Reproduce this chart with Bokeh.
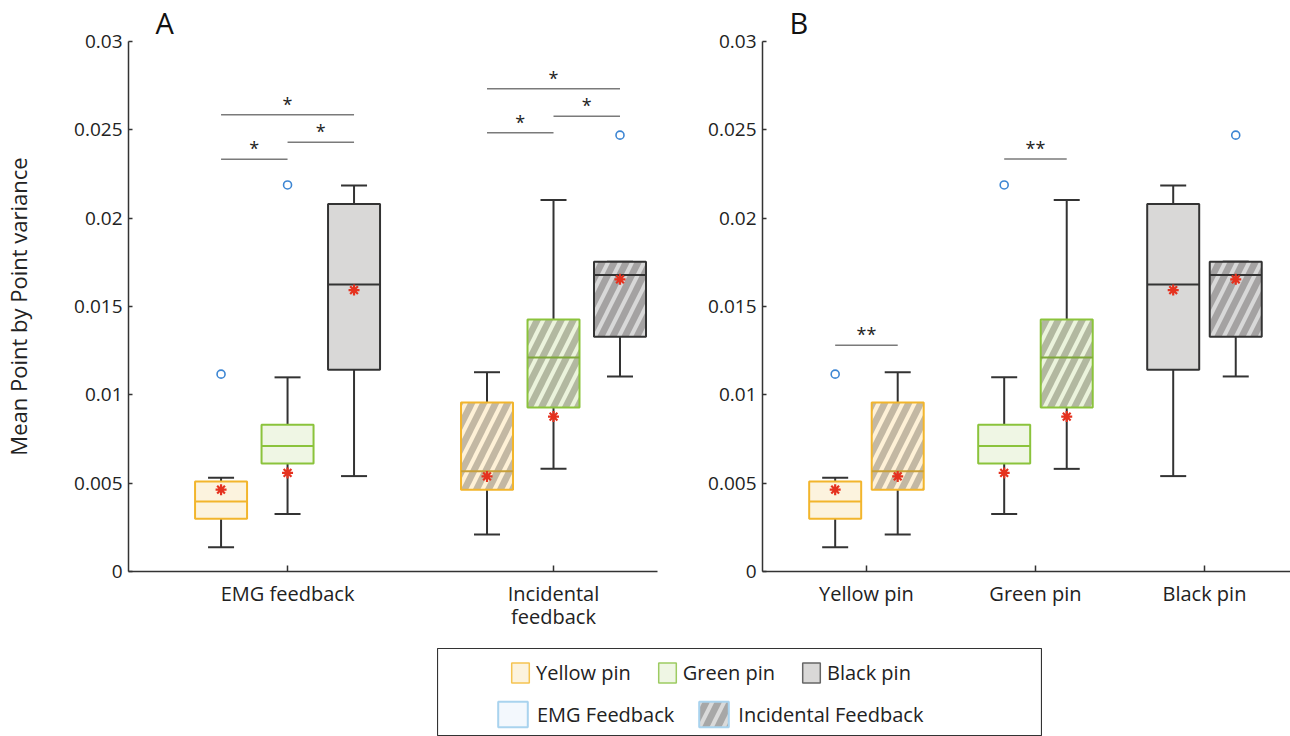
import numpy as np
from bokeh.plotting import figure
from bokeh.models import (Range1d, FixedTicker, CustomJSTickFormatter,
                          Legend, LegendItem, Spacer, ColumnDataSource)
from bokeh.layouts import row, column
from bokeh.embed import file_html
from bokeh.resources import INLINE
from bokeh.core.properties import value

# ---------------- data ----------------
pins = ["Yellow pin", "Green pin", "Black pin"]
feedback_ticks = ["EMG feedback", "Incidental\nfeedback"]
feedback_legend = ["EMG Feedback", "Incidental Feedback"]
panel_letters = ["A", "B"]
y_ticks = [0, 0.005, 0.01, 0.015, 0.02, 0.025, 0.03]
y_tick_labels = ["0", "0.005", "0.01", "0.015", "0.02", "0.025", "0.03"]

# EMG feedback (yellow, green, black)
emg_low = [0.00137, 0.00325, 0.00540]
emg_q1 = [0.00298, 0.00611, 0.01142]
emg_median = [0.00396, 0.00711, 0.01624]
emg_q3 = [0.00510, 0.00830, 0.02080]
emg_high = [0.00531, 0.01099, 0.02185]
emg_mean = [0.00463, 0.00558, 0.01593]
emg_outlier = [0.01117, 0.02188, None]

# Incidental feedback (yellow, green, black)
inc_low = [0.00209, 0.00581, 0.01104]
inc_q1 = [0.00463, 0.00928, 0.01329]
inc_median = [0.00567, 0.01211, 0.01679]
inc_q3 = [0.00957, 0.01426, 0.01754]
inc_high = [0.01128, 0.02103, 0.01754]
inc_mean = [0.00538, 0.00877, 0.01654]
inc_outlier = [None, None, 0.02470]

# significance brackets, panel A: (feedback group, pin from, pin to, height, text)
sigA_group = [0, 0, 0, 1, 1, 1]
sigA_from = [0, 1, 0, 0, 1, 0]
sigA_to = [1, 2, 2, 1, 2, 2]
sigA_y = [0.02334, 0.02430, 0.02586, 0.02483, 0.02577, 0.02733]
sigA_text = ["*", "*", "*", "*", "*", "*"]
# panel B: (pin, height, text) between EMG and Incidental
sigB_pin = [0, 1]
sigB_y = [0.01280, 0.02335]
sigB_text = ["**", "**"]

# ---------------- styles ----------------
FONT = "Open Sans"
edge = ["#F2B52C", "#8BC33C", "#333333"]
fill_emg = ["#FCF3DE", "#EFF6E4", "#D9D8D7"]
fill_inc = ["#C3B8A3", "#B2B8A0", "#A4A2A2"]
hatch_inc = ["#FEF1D7", "#EBF3DC", "#D8D8D8"]
med_inc = ["#C9A038", "#7FA83A", "#333333"]
WHISK = "#333333"
MEAN_C = "#E5321F"
OUT_C = "#3D86D3"
SIG_C = "#7A7A7A"
TXT = "#222222"
HATCH = dict(hatch_pattern="/", hatch_weight=4, hatch_scale=24)

stats = {
    "emg": (emg_low, emg_q1, emg_median, emg_q3, emg_high, emg_mean, emg_outlier),
    "inc": (inc_low, inc_q1, inc_median, inc_q3, inc_high, inc_mean, inc_outlier),
}


def make_source(xs, key):
    low, q1, med, q3, high, mean, outl = stats[key]
    return ColumnDataSource(dict(
        x=xs, low=low, q1=q1, med=med, q3=q3, high=high, mean=mean,
        mid=[(a + b) / 2 for a, b in zip(q1, q3)],
        h=[b - a for a, b in zip(q1, q3)],
        fill=fill_emg if key == "emg" else fill_inc,
        edge=edge,
        medc=edge if key == "emg" else med_inc,
        hatch=hatch_inc,
    )), [(x, o) for x, o in zip(xs, outl) if o is not None]


def draw_boxes(p, src, outs, hatched):
    p.segment(x0="x", y0="low", x1="x", y1="q1", source=src, line_color=WHISK, line_width=2)
    p.segment(x0="x", y0="q3", x1="x", y1="high", source=src, line_color=WHISK, line_width=2)
    p.scatter(x="x", y="low", source=src, marker="dash", size=26, line_color=WHISK, line_width=2)
    p.scatter(x="x", y="high", source=src, marker="dash", size=26, line_color=WHISK, line_width=2)
    kw = dict(hatch_color="hatch", **HATCH) if hatched else {}
    p.rect(x="x", y="mid", width=52, height="h", width_units="screen", source=src,
           fill_color="fill", line_color="edge", line_width=2, **kw)
    p.scatter(x="x", y="med", source=src, marker="dash", size=52, line_color="medc", line_width=2)
    p.scatter(x="x", y="mean", source=src, marker="asterisk", size=11, line_color=MEAN_C, line_width=2.2)
    if outs:
        p.scatter(x=[o[0] for o in outs], y=[o[1] for o in outs], marker="circle", size=8,
                  fill_color=None, line_color=OUT_C, line_width=1.6)


def style_panel(p, tick_pos, tick_labels, letter, ylabel=None):
    p.grid.visible = False
    p.outline_line_color = None
    p.title.text = letter
    p.title.text_font = FONT
    p.title.text_font_size = "29px"
    p.title.text_font_style = "normal"
    p.title.text_color = "#111111"
    p.title.align = "left"
    p.title.offset = 27
    p.title.standoff = 0
    p.title.vertical_align = "bottom"
    p.xaxis.ticker = FixedTicker(ticks=tick_pos)
    p.xaxis.formatter = CustomJSTickFormatter(args=dict(names=tick_labels),
                                              code="return names[Math.round(tick) - 1];")
    p.yaxis.ticker = FixedTicker(ticks=y_ticks)
    p.yaxis.formatter = CustomJSTickFormatter(
        args=dict(tvals=y_ticks, tlabels=y_tick_labels),
        code="const i = tvals.findIndex(t => Math.abs(t - tick) < 1e-9); return i >= 0 ? tlabels[i] : '';")
    for ax in (p.xaxis[0], p.yaxis[0]):
        ax.axis_line_color = "#333333"
        ax.axis_line_width = 1.5
        ax.major_tick_line_color = "#333333"
        ax.major_tick_line_width = 1.5
        ax.minor_tick_line_color = None
        ax.major_tick_out = 0
        ax.major_label_text_font = FONT
        ax.major_label_text_color = TXT
    p.xaxis.major_tick_in = 6
    p.xaxis.major_label_standoff = 8
    p.xaxis.major_label_text_font_size = "20px"
    p.xaxis.major_label_text_line_height = 0.88
    p.yaxis.major_tick_in = 4
    p.yaxis.major_label_standoff = 6
    p.yaxis.major_label_text_font_size = "19px"
    if ylabel:
        p.yaxis.axis_label = ylabel
        p.yaxis.axis_label_text_font = FONT
        p.yaxis.axis_label_text_font_size = "22px"
        p.yaxis.axis_label_text_font_style = "normal"
        p.yaxis.axis_label_text_color = TXT
        p.yaxis.axis_label_standoff = 38


# ---------------- panel A ----------------
PIN_OFF_A = 0.25
pA = figure(width=677, height=640, x_range=Range1d(0.402, 2.391), y_range=Range1d(0, 0.03),
            min_border_left=128, min_border_right=20, min_border_top=40, min_border_bottom=69,
            toolbar_location=None, output_backend="svg")
for g, key in enumerate(["emg", "inc"]):
    xs = [g + 1 + (i - 1) * PIN_OFF_A for i in range(3)]
    src, outs = make_source(xs, key)
    draw_boxes(pA, src, outs, key == "inc")

xa0 = [g + 1 + (a - 1) * PIN_OFF_A for g, a in zip(sigA_group, sigA_from)]
xa1 = [g + 1 + (b - 1) * PIN_OFF_A for g, b in zip(sigA_group, sigA_to)]
pA.segment(x0=xa0, y0=sigA_y, x1=xa1, y1=sigA_y, line_color=SIG_C, line_width=1.5)
pA.text(x=[(a + b) / 2 for a, b in zip(xa0, xa1)], y=sigA_y, text=sigA_text,
        text_align="center", text_baseline="bottom", y_offset=1,
        text_font=value(FONT), text_font_size="18px", text_color=TXT)
style_panel(pA, [1, 2], feedback_ticks, panel_letters[0], "Mean Point by Point variance")

# ---------------- panel B ----------------
FB_OFF_B = 0.185
pB = figure(width=613, height=640, x_range=Range1d(0.385, 3.509), y_range=Range1d(0, 0.03),
            min_border_left=85, min_border_right=0, min_border_top=40, min_border_bottom=69,
            toolbar_location=None, output_backend="svg")
for f, key in enumerate(["emg", "inc"]):
    xs = [i + 1 + (f - 0.5) * 2 * FB_OFF_B for i in range(3)]
    src, outs = make_source(xs, key)
    draw_boxes(pB, src, outs, key == "inc")

xb0 = [i + 1 - FB_OFF_B for i in sigB_pin]
xb1 = [i + 1 + FB_OFF_B for i in sigB_pin]
pB.segment(x0=xb0, y0=sigB_y, x1=xb1, y1=sigB_y, line_color=SIG_C, line_width=1.5)
pB.text(x=[i + 1 for i in sigB_pin], y=sigB_y, text=sigB_text,
        text_align="center", text_baseline="bottom", y_offset=1,
        text_font=value(FONT), text_font_size="18px", text_color=TXT)
style_panel(pB, [1, 2, 3], pins, panel_letters[1])

# ---------------- legend ----------------
pL = figure(width=605, height=96, x_range=Range1d(0, 1), y_range=Range1d(0, 1),
            min_border_top=8, min_border_left=0, min_border_right=1, min_border_bottom=0,
            x_axis_location=None, y_axis_location=None,
            toolbar_location=None, output_backend="svg")
pL.grid.visible = False
pL.outline_line_color = "#333333"
pL.outline_line_width = 1.2

leg_fill = ["#FCF3DE", "#EFF6E4", "#D9D8D7"]
leg_edge = ["#F5C451", "#9DCB62", "#666666"]
pin_r = [pL.rect(x=[np.nan], y=[np.nan], width=1, height=1, fill_color=leg_fill[i],
                 line_color=leg_edge[i], line_width=1.5) for i in range(3)]
fb_r = [
    pL.rect(x=[np.nan], y=[np.nan], width=1, height=1, fill_color="#F3F8FD",
            line_color="#A9D3EE", line_width=2),
    pL.rect(x=[np.nan], y=[np.nan], width=1, height=1, fill_color="#A7A7A7",
            line_color="#A9D3EE", line_width=2, hatch_color="#DADADA", **HATCH),
]
common = dict(orientation="horizontal", padding=0, margin=0, border_line_color=None,
              background_fill_alpha=0, label_text_font=FONT, label_text_font_size="20px",
              label_text_color=TXT, label_height=20)
leg1 = Legend(items=[LegendItem(label=pins[i], renderers=[pin_r[i]]) for i in range(3)],
              location=(72, 50), glyph_width=22, glyph_height=25, label_standoff=5,
              spacing=25, **common)
leg2 = Legend(items=[LegendItem(label=feedback_legend[i], renderers=[fb_r[i]]) for i in range(2)],
              location=(57, 6), glyph_width=37, glyph_height=32, label_standoff=6,
              spacing=21, **common)
pL.add_layout(leg1)
pL.add_layout(leg2)

layout = column(row(pA, pB), row(Spacer(width=437, height=96), pL))
open("out.html", "w").write(file_html(layout, INLINE))
